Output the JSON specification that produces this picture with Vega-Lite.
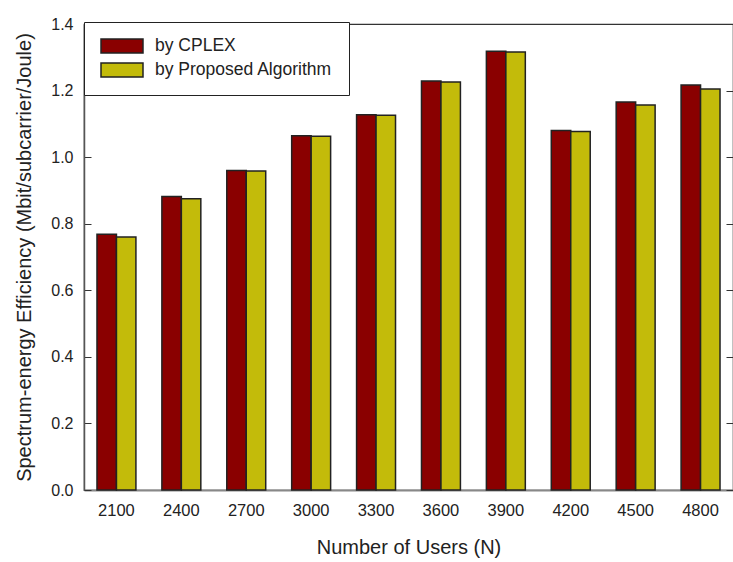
{
  "$schema": "https://vega.github.io/schema/vega-lite/v6.json",
  "width": 649,
  "height": 466,
  "autosize": "none",
  "padding": {"left": 84, "top": 24, "right": 0, "bottom": 72},
  "background": "white",
  "config": {
    "view": {"stroke": "#333", "strokeWidth": 1.2},
    "font": "Liberation Sans"
  },
  "data": {
    "values": [
      {"users": "2100", "method": "by CPLEX", "eff": 0.768},
      {"users": "2100", "method": "by Proposed Algorithm", "eff": 0.760},
      {"users": "2400", "method": "by CPLEX", "eff": 0.882},
      {"users": "2400", "method": "by Proposed Algorithm", "eff": 0.875},
      {"users": "2700", "method": "by CPLEX", "eff": 0.960},
      {"users": "2700", "method": "by Proposed Algorithm", "eff": 0.958},
      {"users": "3000", "method": "by CPLEX", "eff": 1.064},
      {"users": "3000", "method": "by Proposed Algorithm", "eff": 1.063},
      {"users": "3300", "method": "by CPLEX", "eff": 1.127},
      {"users": "3300", "method": "by Proposed Algorithm", "eff": 1.126},
      {"users": "3600", "method": "by CPLEX", "eff": 1.229},
      {"users": "3600", "method": "by Proposed Algorithm", "eff": 1.226},
      {"users": "3900", "method": "by CPLEX", "eff": 1.318},
      {"users": "3900", "method": "by Proposed Algorithm", "eff": 1.316},
      {"users": "4200", "method": "by CPLEX", "eff": 1.080},
      {"users": "4200", "method": "by Proposed Algorithm", "eff": 1.077},
      {"users": "4500", "method": "by CPLEX", "eff": 1.166},
      {"users": "4500", "method": "by Proposed Algorithm", "eff": 1.157},
      {"users": "4800", "method": "by CPLEX", "eff": 1.217},
      {"users": "4800", "method": "by Proposed Algorithm", "eff": 1.205}
    ]
  },
  "encoding": {
    "x": {
      "field": "users", "type": "nominal", "sort": null,
      "scale": {"paddingInner": 0.4, "paddingOuter": 0.2},
      "axis": {
        "title": "Number of Users (N)", "labelAngle": 0,
        "ticks": false, "domainColor": "#888", "domainWidth": 2,
        "labelFontSize": 16.5, "labelColor": "#222", "labelPadding": 12,
        "titleFontSize": 20, "titleFontWeight": "normal", "titleColor": "#222", "titlePadding": 19
      }
    },
    "xOffset": {"field": "method", "type": "nominal", "sort": null},
    "y": {
      "field": "eff", "type": "quantitative",
      "scale": {"domain": [0, 1.4], "nice": false}
    }
  },
  "layer": [
    {
      "mark": {"type": "bar", "stroke": "#222", "strokeWidth": 1.5, "opacity": 1},
      "encoding": {
        "y": {
          "field": "eff", "type": "quantitative",
          "scale": {"domain": [0, 1.4], "nice": false},
          "axis": {
            "title": "Spectrum-energy Efficiency (Mbit/subcarrier/Joule)",
            "values": [0, 0.2, 0.4, 0.6, 0.8, 1.0, 1.2, 1.4], "format": ".1f",
            "grid": false, "tickSize": -7, "tickColor": "#333", "domainColor": "#555", "domainWidth": 1.5,
            "labelFontSize": 16, "labelColor": "#222", "labelPadding": 18,
            "titleFontSize": 20, "titleFontWeight": "normal", "titleColor": "#222", "titlePadding": 16
          }
        },
        "color": {
          "field": "method", "type": "nominal", "sort": null,
          "scale": {"range": ["#8A0000", "#C3BB0A"]},
          "legend": {
            "title": null, "orient": "none", "legendX": 0, "legendY": -2,
            "direction": "vertical",
            "symbolType": "M-1,-0.33H1V0.33H-1Z", "symbolSize": 1764,
            "symbolStrokeColor": "#222", "symbolStrokeWidth": 1.5, "symbolOpacity": 1,
            "clipHeight": 16, "rowPadding": 6,
            "labelFontSize": 17.5, "labelColor": "#222", "labelOffset": 11, "labelLimit": 400,
            "padding": 16, "strokeColor": "#222", "fillColor": "white", "cornerRadius": 0
          }
        }
      }
    },
    {
      "mark": {"type": "bar", "opacity": 0},
      "encoding": {
        "y": {
          "field": "eff", "type": "quantitative",
          "scale": {"domain": [0, 1.4], "nice": false},
          "axis": {
            "orient": "right", "title": null, "labels": false,
            "values": [0, 0.2, 0.4, 0.6, 0.8, 1.0, 1.2, 1.4],
            "grid": false, "tickSize": -7, "tickColor": "#333", "domainColor": "#333"
          }
        }
      }
    }
  ],
  "resolve": {"axis": {"y": "independent"}}
}
